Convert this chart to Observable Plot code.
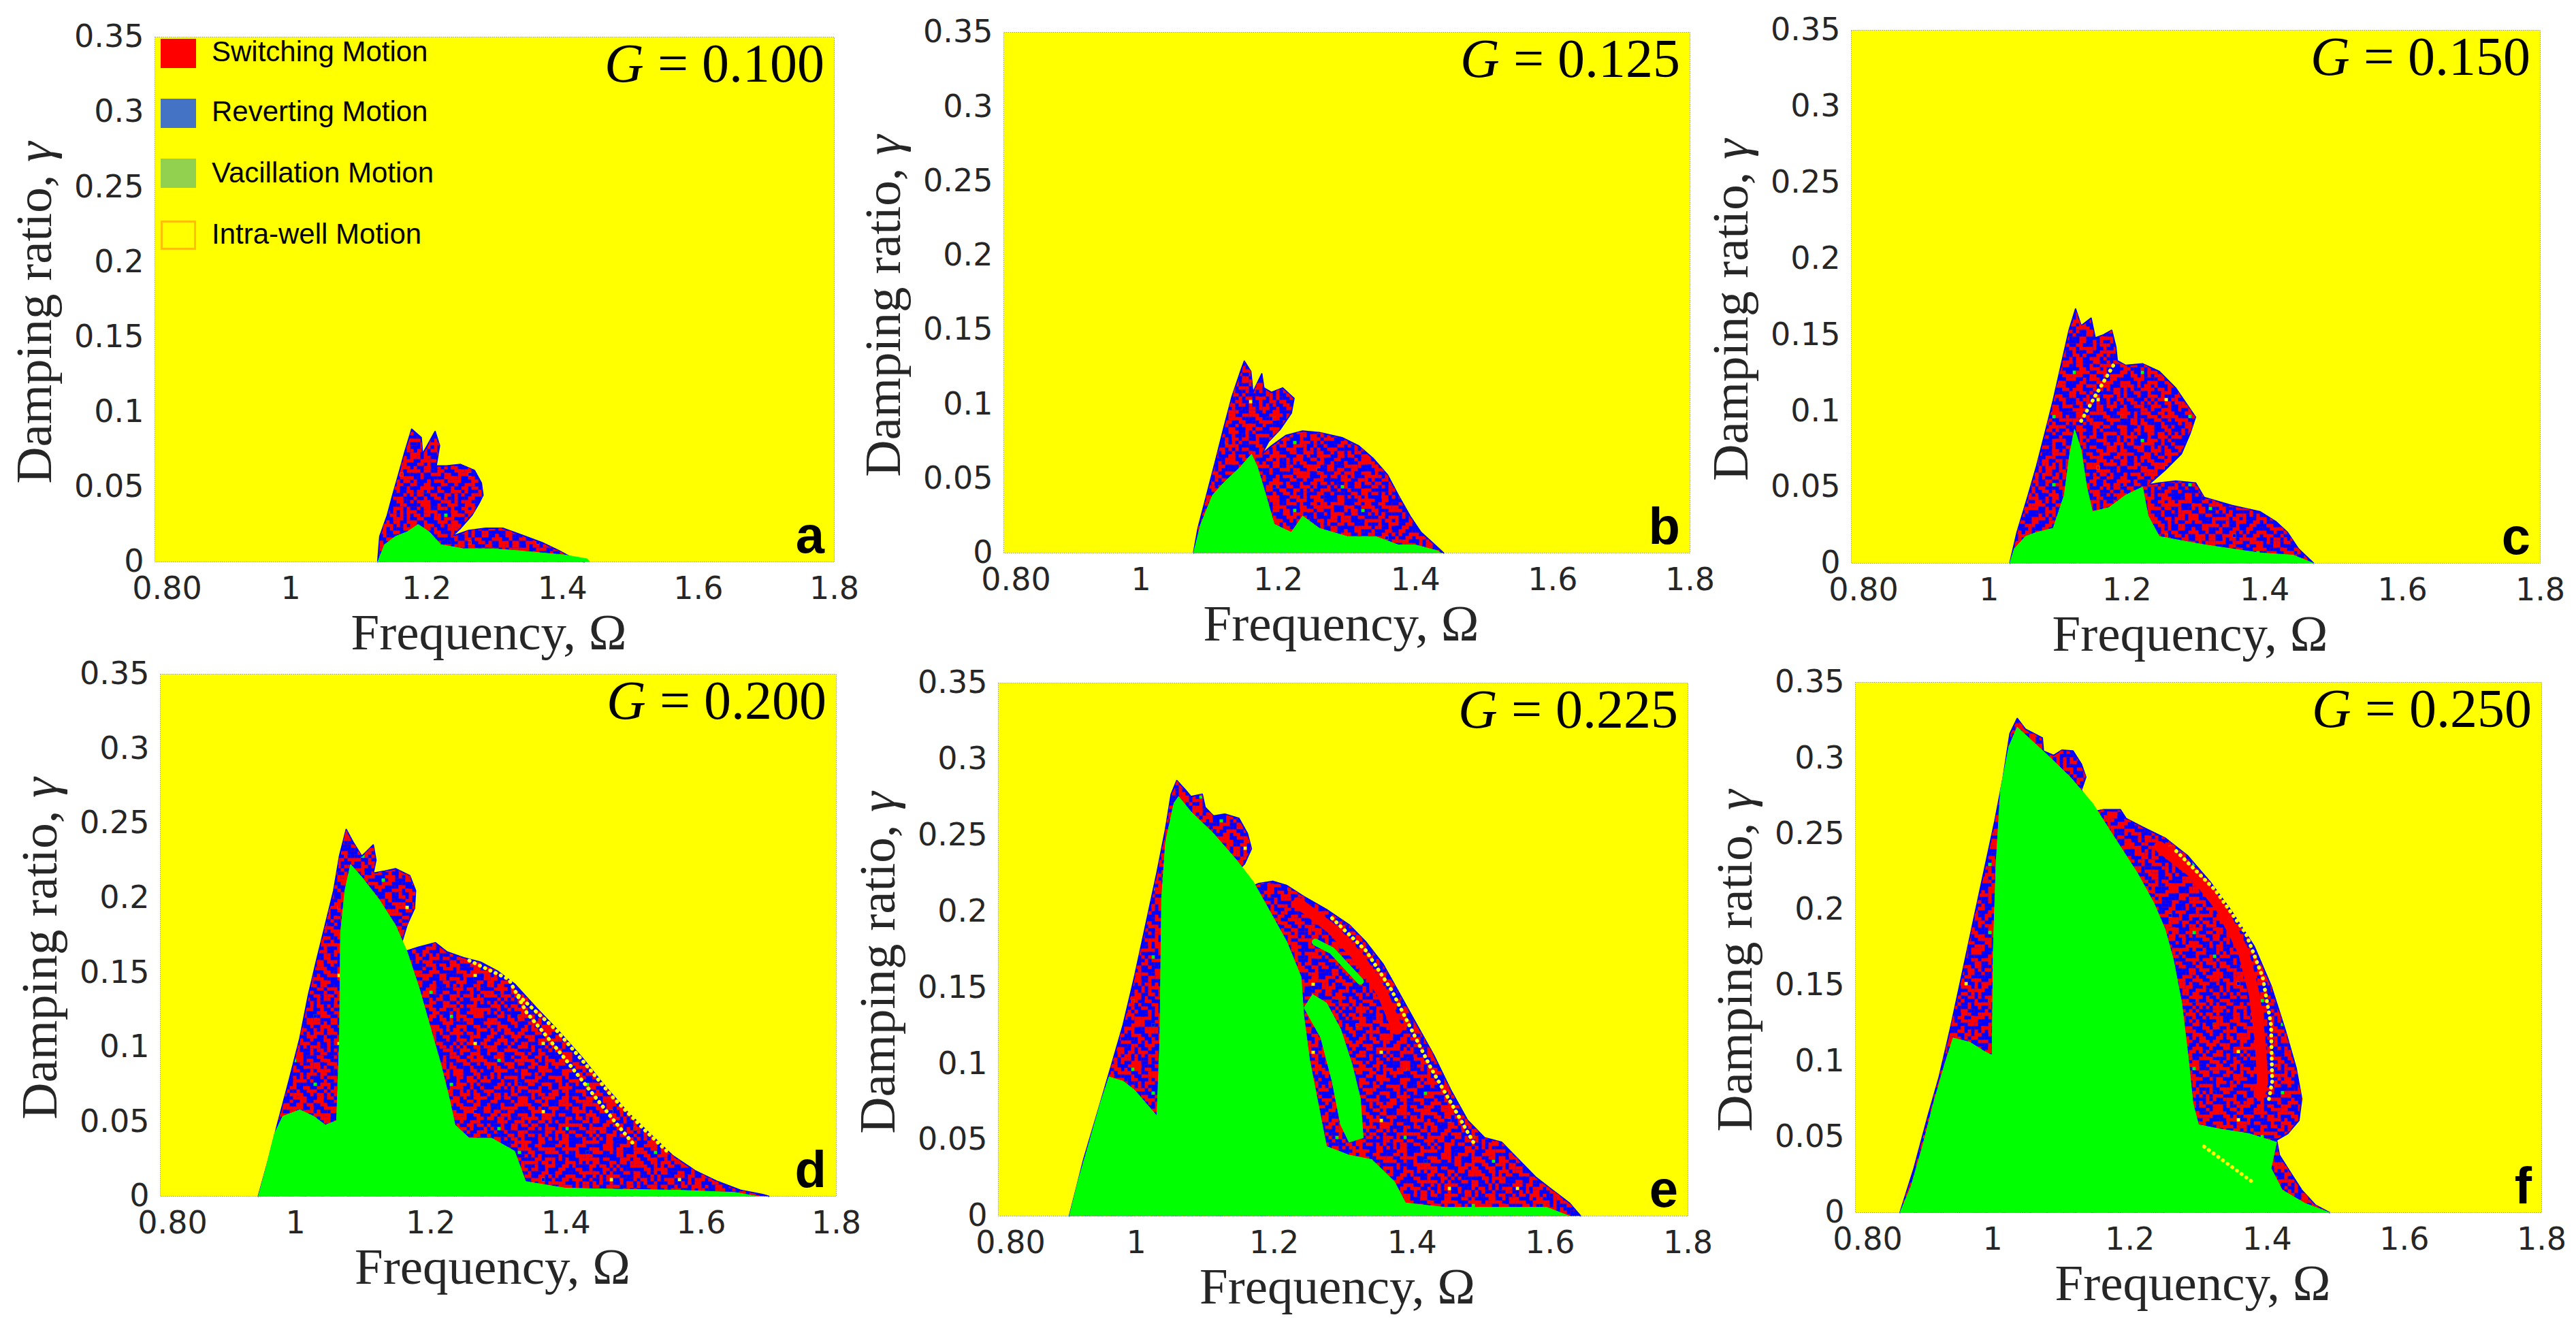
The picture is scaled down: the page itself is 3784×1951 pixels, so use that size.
<!DOCTYPE html>
<html><head><meta charset="utf-8">
<script src="https://cdn.jsdelivr.net/npm/d3@7"></script>
<script src="https://cdn.jsdelivr.net/npm/@observablehq/plot@0.6"></script>
<style>
body{margin:0;background:#fff;}
#root{position:relative;width:3784px;height:1951px;overflow:hidden;background:#fff;}
.panel{position:absolute;}
</style></head><body><div id="root"></div>
<script>
// ---- axis ticks ----
const xTicks=[0.8,1,1.2,1.4,1.6,1.8];
const xTickLabels=["0.80","1","1.2","1.4","1.6","1.8"];
const yTicks=[0,0.05,0.1,0.15,0.2,0.25,0.3,0.35];
const yTickLabels=["0","0.05","0.1","0.15","0.2","0.25","0.3","0.35"];
const panelLetters=["a","b","c","d","e","f"];
const forcingLevels=["0.100","0.125","0.150","0.200","0.225","0.250"];
const legendLabels=["Switching Motion","Reverting Motion","Vacillation Motion","Intra-well Motion"];

// ---- region outlines [Omega, gamma] ----
const chaosA=[[1.128,0],[1.131,0.017],[1.142,0.031],[1.150,0.0445],[1.1585,0.058],[1.167,0.072],[1.178,0.0885],[1.192,0.083],[1.194,0.072],[1.2125,0.087],[1.219,0.0775],[1.214,0.064],[1.229,0.064],[1.250,0.065],[1.2705,0.061],[1.2805,0.0527],[1.283,0.0445],[1.277,0.039],[1.2665,0.031],[1.250,0.0225],[1.237,0.017],[1.262,0.021],[1.287,0.0225],[1.312,0.0225],[1.337,0.0184],[1.370,0.0129],[1.395,0.0074],[1.4115,0.0033],[1.432,0]];
const greenA=[[1.128,0],[1.138,0.0115],[1.154,0.017],[1.171,0.020],[1.1875,0.025],[1.204,0.020],[1.221,0.0115],[1.254,0.0088],[1.2955,0.0088],[1.337,0.0074],[1.370,0.006],[1.403,0.0047],[1.4365,0.002],[1.44,0]];

const chaosB=[[1.0765,0],[1.083,0.0166],[1.0955,0.0388],[1.108,0.061],[1.120,0.083],[1.1325,0.105],[1.145,0.122],[1.1505,0.129],[1.160,0.122],[1.163,0.108],[1.176,0.1205],[1.179,0.111],[1.19,0.108],[1.2065,0.111],[1.223,0.104],[1.219,0.094],[1.2025,0.083],[1.186,0.075],[1.176,0.0665],[1.190,0.072],[1.211,0.079],[1.2355,0.082],[1.260,0.081],[1.293,0.0776],[1.3175,0.072],[1.338,0.0637],[1.359,0.0527],[1.375,0.0388],[1.392,0.0249],[1.408,0.0139],[1.425,0.0069],[1.441,0]];
const greenB=[[1.0765,0],[1.087,0.0194],[1.104,0.0388],[1.120,0.047],[1.145,0.058],[1.161,0.0665],[1.1695,0.058],[1.182,0.0388],[1.194,0.0194],[1.219,0.0139],[1.2355,0.0249],[1.260,0.0166],[1.301,0.0111],[1.342,0.0111],[1.375,0.0055],[1.40,0.0055],[1.433,0.0014],[1.437,0]];

const chaosC=[[1.030,0],[1.0405,0.0203],[1.0567,0.0447],[1.0688,0.0637],[1.081,0.0853],[1.093,0.107],[1.105,0.131],[1.116,0.153],[1.1255,0.167],[1.1336,0.156],[1.148,0.161],[1.154,0.148],[1.166,0.150],[1.178,0.153],[1.184,0.142],[1.186,0.133],[1.198,0.130],[1.2227,0.131],[1.247,0.126],[1.271,0.115],[1.2875,0.104],[1.2996,0.096],[1.2915,0.085],[1.279,0.0718],[1.255,0.061],[1.231,0.0515],[1.247,0.0528],[1.271,0.054],[1.2996,0.0528],[1.312,0.0433],[1.352,0.038],[1.393,0.0339],[1.417,0.0271],[1.433,0.0203],[1.449,0.0095],[1.471,0]];
const greenC=[[1.030,0],[1.0365,0.0095],[1.0526,0.0176],[1.0688,0.0203],[1.093,0.023],[1.109,0.0447],[1.117,0.0718],[1.124,0.088],[1.1336,0.0745],[1.1417,0.0501],[1.150,0.0339],[1.174,0.0366],[1.198,0.0447],[1.2227,0.0501],[1.2308,0.0312],[1.247,0.0176],[1.279,0.0149],[1.312,0.0122],[1.352,0.0095],[1.393,0.0068],[1.441,0.0054],[1.471,0]];
const yellowC=[[1.1336,0.0935],[1.1538,0.1097],[1.1822,0.1314]];

const chaosD=[[0.945,0],[0.960,0.0245],[0.973,0.0478],[0.990,0.0769],[1.0064,0.106],[1.019,0.135],[1.031,0.158],[1.044,0.182],[1.0565,0.205],[1.065,0.228],[1.075,0.246],[1.0857,0.237],[1.098,0.228],[1.115,0.2356],[1.119,0.2254],[1.115,0.2166],[1.1317,0.218],[1.148,0.2196],[1.169,0.215],[1.1776,0.205],[1.176,0.193],[1.165,0.182],[1.157,0.170],[1.161,0.164],[1.182,0.167],[1.207,0.170],[1.2236,0.164],[1.2486,0.160],[1.2737,0.157],[1.2987,0.151],[1.324,0.1424],[1.357,0.126],[1.3906,0.110],[1.424,0.0929],[1.4575,0.074],[1.491,0.0565],[1.5243,0.0419],[1.5577,0.0274],[1.591,0.0172],[1.6244,0.0099],[1.658,0.0041],[1.6914,0.0012],[1.70,0]];
const greenD=[[0.945,0],[0.956,0.0186],[0.9688,0.0419],[0.981,0.0536],[1.0064,0.058],[1.027,0.0536],[1.044,0.0478],[1.0607,0.0507],[1.065,0.106],[1.0665,0.176],[1.073,0.205],[1.0815,0.2225],[1.098,0.214],[1.1233,0.1992],[1.148,0.1817],[1.165,0.164],[1.182,0.141],[1.1985,0.1147],[1.215,0.0885],[1.2277,0.0652],[1.236,0.0478],[1.257,0.039],[1.290,0.039],[1.324,0.0303],[1.3405,0.0099],[1.399,0.0055],[1.4825,0.0047],[1.566,0.0041],[1.65,0.0026],[1.683,0]];
const yellowD=[[1.257,0.158],[1.3155,0.1455],[1.3418,0.1232],[1.3656,0.1105],[1.399,0.092],[1.4408,0.068],[1.4742,0.049],[1.4999,0.0351]];
const yellowD2=[[1.33,0.1345],[1.386,0.1113],[1.43,0.088],[1.47,0.066],[1.52,0.0429],[1.55,0.03]];

const chaosE=[[0.903,0],[0.9237,0.0371],[0.948,0.0742],[0.9646,0.0999],[0.981,0.1256],[0.9974,0.157],[1.0138,0.1913],[1.030,0.2255],[1.0424,0.254],[1.0506,0.277],[1.0588,0.286],[1.071,0.280],[1.0793,0.2755],[1.0957,0.277],[1.0998,0.2684],[1.112,0.2627],[1.1284,0.264],[1.1489,0.2612],[1.1612,0.2512],[1.167,0.2412],[1.157,0.2313],[1.1448,0.2255],[1.157,0.2141],[1.1776,0.2184],[1.198,0.2198],[1.2185,0.217],[1.243,0.2098],[1.2758,0.2013],[1.3086,0.1913],[1.3332,0.1799],[1.3577,0.1656],[1.3823,0.1456],[1.4069,0.1256],[1.4315,0.1056],[1.456,0.0828],[1.4806,0.0628],[1.5052,0.0514],[1.5297,0.0485],[1.5543,0.0371],[1.5789,0.0257],[1.6034,0.0171],[1.628,0.0086],[1.6444,0]];
const greenE=[[0.903,0],[0.9155,0.0228],[0.9319,0.0485],[0.948,0.0742],[0.9605,0.0914],[0.981,0.0885],[0.9974,0.0828],[1.0138,0.0742],[1.030,0.0657],[1.0342,0.117],[1.0367,0.2084],[1.0424,0.2455],[1.0547,0.2712],[1.0613,0.2755],[1.0793,0.2655],[1.112,0.2512],[1.1448,0.2341],[1.1694,0.2198],[1.194,0.1999],[1.2185,0.1799],[1.239,0.157],[1.243,0.1313],[1.2513,0.1028],[1.2636,0.0742],[1.2759,0.0457],[1.3086,0.04],[1.3414,0.0371],[1.3741,0.0228],[1.3905,0.0086],[1.4478,0.0057],[1.5297,0.0057],[1.5953,0.0057],[1.628,0]];
const greenTongueE=[[1.2554,0.1456],[1.2759,0.1399],[1.2963,0.1228],[1.3127,0.0999],[1.325,0.0771],[1.3291,0.0514],[1.3086,0.0485],[1.2963,0.06],[1.284,0.0885],[1.2677,0.117],[1.2431,0.137]];
const greenStripeE=[[1.2595,0.1799],[1.284,0.1742],[1.325,0.1542]];
const redE=[[1.2349,0.2056],[1.284,0.1884],[1.325,0.1685],[1.3577,0.1456],[1.3782,0.1228]];
const yellowE=[[1.284,0.1956],[1.3332,0.1742],[1.37,0.1485],[1.3987,0.1228],[1.4274,0.0971],[1.4601,0.0714],[1.4888,0.0485]];

const chaosF=[[0.865,0],[0.8854,0.0293],[0.9057,0.0637],[0.922,0.0895],[0.9382,0.1211],[0.9545,0.1555],[0.9707,0.19],[0.987,0.2244],[1.0033,0.2588],[1.0154,0.2875],[1.0252,0.3162],[1.0358,0.3262],[1.048,0.319],[1.0602,0.3162],[1.0724,0.3133],[1.074,0.3047],[1.0886,0.3018],[1.1008,0.3053],[1.1171,0.3047],[1.1293,0.2961],[1.1358,0.2875],[1.1293,0.2789],[1.1455,0.2645],[1.1618,0.266],[1.1862,0.266],[1.1943,0.2602],[1.2187,0.2545],[1.2512,0.2473],[1.2837,0.2358],[1.3163,0.2186],[1.3488,0.1985],[1.3813,0.1756],[1.4057,0.1498],[1.426,0.1211],[1.4423,0.0953],[1.4504,0.0752],[1.4463,0.0608],[1.4301,0.0522],[1.4138,0.0479],[1.4179,0.0379],[1.4341,0.0264],[1.4504,0.0149],[1.4707,0.0049],[1.4911,0]];
const greenF=[[0.865,0],[0.8813,0.0178],[0.8976,0.0436],[0.9138,0.0723],[0.9301,0.0981],[0.9423,0.1153],[0.9667,0.1125],[0.987,0.1067],[0.9992,0.1039],[1.0008,0.1727],[1.0049,0.2301],[1.0114,0.2789],[1.0236,0.3076],[1.0358,0.3205],[1.0561,0.3119],[1.0805,0.3018],[1.113,0.2875],[1.1455,0.2703],[1.178,0.2473],[1.2106,0.2244],[1.235,0.2043],[1.2512,0.1871],[1.2634,0.167],[1.2756,0.1383],[1.2854,0.101],[1.2919,0.0723],[1.3,0.058],[1.3325,0.0551],[1.3732,0.0522],[1.4138,0.0465],[1.4057,0.0293],[1.422,0.0149],[1.4545,0.0063],[1.4911,0]];
const redF=[[1.2431,0.2416],[1.2919,0.2244],[1.3325,0.2014],[1.365,0.1727],[1.3813,0.144],[1.3894,0.1153],[1.3935,0.0866],[1.3894,0.078]];
const yellowF=[[1.2675,0.2387],[1.3244,0.2129],[1.3691,0.1842],[1.3935,0.1555],[1.4057,0.1239],[1.4073,0.0866],[1.4016,0.0723]];
const yellowF2=[[1.3081,0.0436],[1.3772,0.0207]];

const panels=[
  {chaos:[chaosA],green:[greenA],red:[],stripes:[],yellow:[]},
  {chaos:[chaosB],green:[greenB],red:[],stripes:[],yellow:[]},
  {chaos:[chaosC],green:[greenC],red:[],stripes:[],yellow:[yellowC]},
  {chaos:[chaosD],green:[greenD],red:[],stripes:[],yellow:[yellowD,yellowD2]},
  {chaos:[chaosE],green:[greenE,greenTongueE],red:[redE],stripes:[greenStripeE],yellow:[yellowE]},
  {chaos:[chaosF],green:[greenF],red:[redF],stripes:[],yellow:[yellowF,yellowF2]}
];

// ---- layout (pixel boxes of each plotting area) ----
const boxes=[[227,1225,54,825],[1474,2482,47,812],[2719,3731,44,827],[235,1228,990,1757],[1466,2479,1003,1786],[2725,3733,1002,1781]];
const ML=220, MR=30, MT=20, MB=150;

// speckle texture tiles (style only): a base tile and an overlay tile of another period
const tile=[
"BBRRRBBBRBRRBBBRRBRB",
"BRRRBBBRRBRRRBBRRBBB",
"RRBRBBRRRBBRBBRRBBRR",
"RBBBRRRBBBBRRBRRRBRR",
"BBBRRBRBBGBRRRBBRRRB",
"BRRRBBRRBRRRBBBRBBRB",
"RRBRBBBRRRBBRBRRBBBR",
"RBBRRRBBRBBRRRBBRRBR",
"BBRRBRRBBBRRBRRBBRRR",
"BRRBBBRRBRRRBBRRBRBB",
"RRBBRBBRRRBRRBBBRRBB",
"RBBRRRBBRBBBRRBRRBRR",
"BBRRBRRRBBRBBRRRYBBR",
"BRRBBBRBBRRRBRBBRRBR",
"RRBBRBRRRBBRRRBBBRRB",
"RBBRRBBBRRBBRBBRRBBB",
"BBRRRRBRBBRRBBRRBRRB",
"BRBGRBBRRBBRRRBRBBRR",
"RRRBBRRBBRRBBRRBBRBR",
"RBBRBBRRBRRBRBBRRRBB"];
const overlay=[
".R..B.RR...B.",
"B..RR...B.R..",
"..B...BB..R.R",
".RR.B....B...",
"R...BB.R...RB",
"..R....RB.B..",
"B.BB.R....R.B",
".R...RB.B....",
"..RB....R.BB.",
"B....BR...R..",
".BR.R...BB..R",
"R...B.RR...B.",
"..BB...R.B..R"];
const tileColors={R:"#ff0000",B:"#0000ff",G:"#00ff00",Y:"#ffff00"};
const cell=5;

const toRows=polys=>polys.flatMap((p,k)=>p.map(([x,y])=>({x,y,k})));
const labelOf=(ticks,labels)=>d=>labels[ticks.findIndex(t=>Math.abs(t-d)<1e-9)];

function addPattern(defs,id,rows){
  const n=rows.length, m=rows[0].length;
  const pat=defs.append("pattern").attr("id",id).attr("patternUnits","userSpaceOnUse")
    .attr("width",cell*m).attr("height",cell*n);
  rows.forEach((row,r)=>[...row].forEach((c,j)=>{
    if(tileColors[c]) pat.append("rect").attr("x",j*cell).attr("y",r*cell)
      .attr("width",cell).attr("height",cell).attr("fill",tileColors[c]);
  }));
}

const root=document.getElementById("root");
panels.forEach((p,i)=>{
  const [L,R,T,B]=boxes[i]; const w=R-L, h=B-T;
  const pid="speckle-"+panelLetters[i], oid="speckle2-"+panelLetters[i];
  const svg=Plot.plot({
    width:w+ML+MR, height:h+MT+MB,
    marginLeft:ML, marginRight:MR, marginTop:MT, marginBottom:MB,
    x:{domain:[0.8,1.8]}, y:{domain:[0,0.35]},
    style:{fontFamily:"'DejaVu Sans', sans-serif", fontSize:"46px", color:"#262626", background:"transparent", overflow:"visible", maxWidth:"none"},
    marks:[
      Plot.frame({fill:"#ffff00", stroke:"none"}),
      Plot.line(toRows(p.chaos),{x:"x",y:"y",z:"k",fill:`url(#${pid})`,stroke:"#0000ff",strokeWidth:2}),
      Plot.line(toRows(p.chaos),{x:"x",y:"y",z:"k",fill:`url(#${oid})`,stroke:"none"}),
      Plot.line(toRows(p.red),{x:"x",y:"y",z:"k",stroke:"#ff0000",strokeWidth:16,strokeLinejoin:"round"}),
      Plot.line(toRows(p.stripes),{x:"x",y:"y",z:"k",stroke:"#00ff00",strokeWidth:10}),
      Plot.line(toRows(p.green),{x:"x",y:"y",z:"k",fill:"#00ff00",stroke:"#00ff00",strokeWidth:1}),
      Plot.line(toRows(p.yellow),{x:"x",y:"y",z:"k",stroke:"#ffff00",strokeWidth:5.5,strokeDasharray:"0.5 8",strokeLinecap:"round"}),
      Plot.frame({stroke:"#9a9a9a",strokeWidth:1,strokeDasharray:"1.5 1.5"}),
      Plot.axisX({ticks:xTicks,tickFormat:labelOf(xTicks,xTickLabels),tickSize:0,tickPadding:22,label:null}),
      Plot.axisY({ticks:yTicks,tickFormat:labelOf(yTicks,yTickLabels),tickSize:0,tickPadding:16,label:null})
    ]
  });
  const s=d3.select(svg);
  // the first x tick label sits a little right of the axis origin, as in the figure
  s.selectAll('g[aria-label="x-axis tick label"] text').filter((d,j)=>j===0).attr("dx",18);
  const defs=s.insert("defs",":first-child");
  addPattern(defs,pid,tile);
  addPattern(defs,oid,overlay);

  // axis titles
  const yl=s.append("text").attr("transform",`translate(${ML-152},${MT+h/2+20}) rotate(-90)`)
    .attr("text-anchor","middle").attr("font-family","'Liberation Serif', serif").attr("font-size",75).attr("fill","#262626");
  yl.append("tspan").text("Damping ratio, ");
  yl.append("tspan").attr("font-style","italic").text("γ");
  s.append("text").attr("x",ML+w/2-8).attr("y",MT+h+129).attr("text-anchor","middle")
    .attr("font-family","'Liberation Serif', serif").attr("font-size",75).attr("fill","#262626").text("Frequency, Ω");
  // G label
  const g=s.append("text").attr("x",ML+w-14).attr("y",MT+66).attr("text-anchor","end")
    .attr("font-family","'Liberation Serif', serif").attr("font-size",80).attr("fill","#000");
  g.append("tspan").attr("font-style","italic").text("G");
  g.append("tspan").text(" = "+forcingLevels[i]);
  // panel letter
  s.append("text").attr("x",ML+w-14).attr("y",MT+h-13).attr("text-anchor","end")
    .attr("font-family","'Liberation Sans', Arial, sans-serif").attr("font-weight","bold").attr("font-size",76).attr("fill","#000").text(panelLetters[i]);

  if(i===0){
    const legFill=["#ff0000","#4472c4","#92d050","#ffff00"];
    const legStroke=["#ff0000","#4472c4","#92d050","#ffc000"];
    const rowsY=[3,91,179,270];
    const textY=[36,124,214,304];
    legendLabels.forEach((lab,k)=>{
      const hollow=k===3;
      s.append("rect").attr("x",ML+9+(hollow?1.5:0)).attr("y",MT+rowsY[k]+(hollow?1.5:0))
        .attr("width",52-(hollow?3:0)).attr("height",43-(hollow?3:0))
        .attr("fill",legFill[k]).attr("stroke",hollow?legStroke[k]:"none").attr("stroke-width",hollow?3:0);
      s.append("text").attr("x",ML+84).attr("y",MT+textY[k]).attr("text-anchor","start")
        .attr("font-family","'Liberation Sans', Arial, sans-serif")
        .attr("font-size",42).attr("fill","#000").text(lab);
    });
  }
  const div=document.createElement("div");
  div.className="panel";
  div.style.left=(L-ML)+"px"; div.style.top=(T-MT)+"px";
  div.appendChild(svg);
  root.appendChild(div);
});
</script>
</body></html>
